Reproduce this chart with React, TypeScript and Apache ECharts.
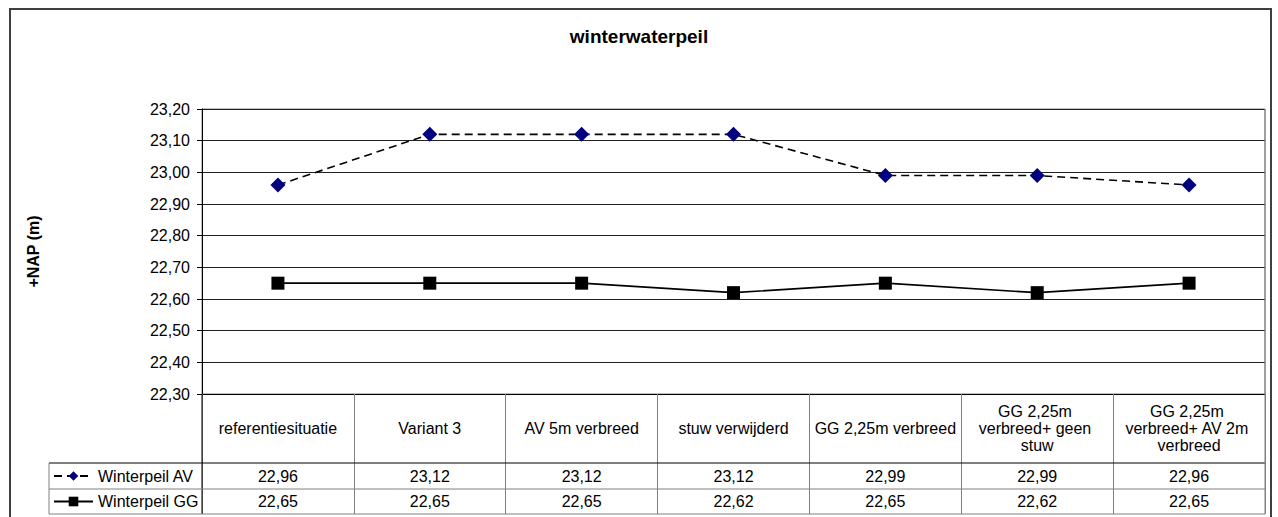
import React, { useEffect, useRef } from "react";
import * as echarts from "echarts";

const titleText = "winterwaterpeil";
const yAxisName = "+NAP (m)";
const categories = [
  "referentiesituatie",
  "Variant 3",
  "AV 5m verbreed",
  "stuw verwijderd",
  "GG 2,25m verbreed",
  "GG 2,25m verbreed+ geen stuw",
  "GG 2,25m verbreed+ AV 2m verbreed",
];
const seriesNames = ["Winterpeil AV", "Winterpeil GG"];
const avValues = [22.96, 23.12, 23.12, 23.12, 22.99, 22.99, 22.96];
const ggValues = [22.65, 22.65, 22.65, 22.62, 22.65, 22.62, 22.65];
const yMin = 22.3;
const yMax = 23.2;
const yStep = 0.1;

const fmt = (v: number) => v.toFixed(2).replace(".", ",");

const FONT = 'Arial, "Liberation Sans", sans-serif';
const L = 202;
const T = 109;
const R = 1265;
const B = 394;
const ROW1 = 463;
const ROW2 = 489;
const ROW3 = 514;
const LEG_L = 49;

export default function App() {
  const ref = useRef<HTMLDivElement>(null);
  useEffect(() => {
    if (!ref.current) return;
    const chart = echarts.init(ref.current, undefined, { renderer: "svg" });
    const line = (x1: number, y1: number, x2: number, y2: number, color: string, w = 1) => ({
      type: "line",
      shape: { x1, y1, x2, y2 },
      style: { stroke: color, lineWidth: w },
      z: 10,
      silent: true,
    });
    const legendBase = {
      left: 53,
      padding: 0,
      orient: "vertical",
      itemWidth: 39,
      itemHeight: 12,
      selectedMode: false,
      textStyle: { fontFamily: FONT, fontSize: 16, color: "#000", lineHeight: 18 },
    };
    chart.setOption({
      animation: false,
      backgroundColor: "#fff",
      textStyle: { fontFamily: FONT },
      title: {
        text: titleText,
        left: "center",
        top: 27,
        padding: 0,
        textStyle: { fontFamily: FONT, fontSize: 19, fontWeight: "bold", color: "#000" },
      },
      legend: [
        { ...legendBase, data: [seriesNames[0]], top: 467 },
        { ...legendBase, data: [seriesNames[1]], top: 492.5 },
      ],
      grid: {
        left: L,
        top: T,
        width: R - L,
        height: B - T,
        show: true,
        borderColor: "#808080",
        borderWidth: 1,
        backgroundColor: "transparent",
      },
      xAxis: [
        {
          type: "category",
          data: categories,
          boundaryGap: true,
          axisLine: { show: true, lineStyle: { color: "#000", width: 1 } },
          axisTick: { show: true, length: ROW3 - B, interval: 0, lineStyle: { color: "#808080" } },
          axisLabel: {
            interval: 0,
            fontFamily: FONT,
            fontSize: 16,
            color: "#000",
            width: 145,
            overflow: "break",
            lineHeight: 17,
            margin: (ROW1 - B) / 2,
            verticalAlign: "middle",
            align: "center",
          },
          splitLine: { show: false },
        },
        {
          type: "category",
          data: avValues.map(fmt),
          position: "bottom",
          offset: (ROW1 + ROW2) / 2 - B,
          axisLine: { show: false },
          axisTick: { show: false },
          splitLine: { show: false },
          axisLabel: { interval: 0, fontFamily: FONT, fontSize: 16, color: "#000", margin: 0, verticalAlign: "middle" },
        },
        {
          type: "category",
          data: ggValues.map(fmt),
          position: "bottom",
          offset: (ROW2 + ROW3) / 2 - B,
          axisLine: { show: false },
          axisTick: { show: false },
          splitLine: { show: false },
          axisLabel: { interval: 0, fontFamily: FONT, fontSize: 16, color: "#000", margin: 0, verticalAlign: "middle" },
        },
      ],
      yAxis: {
        type: "value",
        min: yMin,
        max: yMax,
        interval: yStep,
        name: yAxisName,
        nameLocation: "middle",
        nameGap: 161,
        nameRotate: 90,
        nameTextStyle: { fontFamily: FONT, fontSize: 16, fontWeight: "bold", color: "#000" },
        axisLine: { show: true, lineStyle: { color: "#000", width: 1 } },
        axisTick: { show: true, length: 5, lineStyle: { color: "#000" } },
        axisLabel: { formatter: (v: number) => fmt(v), fontFamily: FONT, fontSize: 16, color: "#000", margin: 12 },
        splitLine: { show: true, lineStyle: { color: "#222", width: 1 } },
      },
      series: [
        {
          name: seriesNames[0],
          type: "line",
          data: avValues,
          symbol: "diamond",
          symbolSize: 15,
          itemStyle: { color: "#000080" },
          lineStyle: { color: "#000", width: 1.6, type: [8, 5] },
          z: 3,
        },
        {
          name: seriesNames[1],
          type: "line",
          data: ggValues,
          symbol: "rect",
          symbolSize: 13,
          itemStyle: { color: "#000" },
          lineStyle: { color: "#000", width: 1.6, type: "solid" },
          z: 3,
        },
      ],
      graphic: [
        {
          type: "rect",
          shape: { x: 10, y: 9, width: 1261, height: 530 },
          style: { fill: "none", stroke: "#404040", lineWidth: 2 },
          z: 10,
          silent: true,
        },
        line(L, B, L, ROW3, "#000"),
        line(LEG_L, ROW1, R, ROW1, "#000"),
        line(LEG_L, ROW2, R, ROW2, "#808080"),
        line(LEG_L, ROW3, R, ROW3, "#808080"),
        line(LEG_L, ROW1, LEG_L, ROW3, "#808080"),
        line(R, T, R, ROW3, "#808080"),
      ],
    });
    return () => chart.dispose();
  }, []);
  return (
    <div
      ref={ref}
      style={{ position: "fixed", left: 0, top: 0, width: 1278, height: 517, background: "#fff" }}
    />
  );
}
